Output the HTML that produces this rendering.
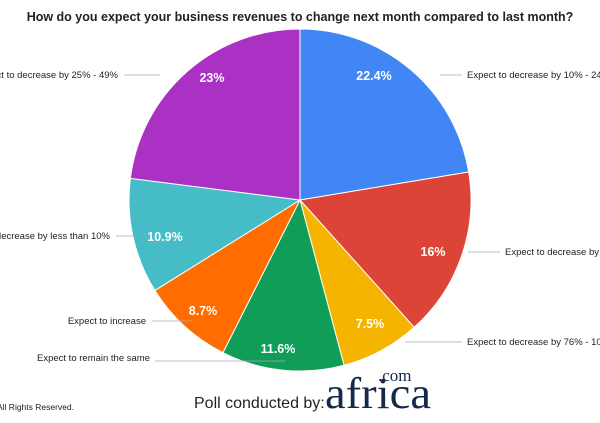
<!DOCTYPE html>
<html><head><style>
body{margin:0;background:#fff;width:600px;height:418px;overflow:hidden;font-family:"Liberation Sans",Arial,sans-serif}
</style></head><body>
<svg id="s" width="600" height="418" xmlns="http://www.w3.org/2000/svg" font-family="Liberation Sans, Arial, sans-serif">
<text x="300" y="21" text-anchor="middle" font-size="12.5" font-weight="bold" fill="#222">How do you expect your business revenues to change next month compared to last month?</text>
<g id="pie"></g>
<g stroke="#aaa" stroke-width="0.8" fill="none">
<line x1="440" y1="75" x2="462" y2="75"/>
<line x1="468" y1="252" x2="500" y2="252"/>
<line x1="405" y1="342" x2="462" y2="342"/>
<line x1="155" y1="361" x2="285" y2="361"/>
<line x1="152" y1="321" x2="192" y2="321"/>
<line x1="116" y1="236" x2="135" y2="236"/>
<line x1="124" y1="75" x2="160" y2="75"/>
</g>
<g font-size="9.5" fill="#222">
<text x="467" y="78">Expect to decrease by 10% - 24%</text>
<text x="505" y="255">Expect to decrease by 50% - 75%</text>
<text x="467" y="345">Expect to decrease by 76% - 100%</text>
<text x="150" y="361" text-anchor="end">Expect to remain the same</text>
<text x="146" y="324" text-anchor="end">Expect to increase</text>
<text x="110" y="239" text-anchor="end">Expect to decrease by less than 10%</text>
<text x="118" y="78" text-anchor="end">Expect to decrease by 25% - 49%</text>
</g>
<g font-size="12.5" font-weight="bold" fill="#fff" text-anchor="middle">
<text x="374" y="80">22.4%</text>
<text x="433" y="256">16%</text>
<text x="370" y="328">7.5%</text>
<text x="278" y="353">11.6%</text>
<text x="203" y="315">8.7%</text>
<text x="165" y="241">10.9%</text>
<text x="212" y="82">23%</text>
</g>
<text x="-3" y="410" font-size="8.5" fill="#222">All Rights Reserved.</text>
<text x="194" y="408" font-size="16" fill="#222">Poll conducted by:</text>
<text x="325" y="408" font-size="44" font-family="Liberation Serif, serif" fill="#15294a" textLength="106" lengthAdjust="spacingAndGlyphs">africa</text>
<text x="378" y="381" font-size="17" font-family="Liberation Serif, serif" fill="#15294a">.com</text>
</svg>
<script>
var d=[[22.4,"#4285f4"],[16,"#db4437"],[7.5,"#f4b400"],[11.6,"#0f9d58"],[8.7,"#ff6d00"],[10.9,"#46bdc6"],[23,"#ab30c4"]];
var cx=300,cy=200,r=171,a=0,t=100.1,h="";
d.forEach(function(s){var a2=a+s[0]/t*2*Math.PI;
var x1=cx+r*Math.sin(a),y1=cy-r*Math.cos(a),x2=cx+r*Math.sin(a2),y2=cy-r*Math.cos(a2);
h+='<path d="M'+cx+','+cy+'L'+x1+','+y1+'A'+r+','+r+' 0 '+(a2-a>Math.PI?1:0)+' 1 '+x2+','+y2+'Z" fill="'+s[1]+'" stroke="#fff" stroke-width="1"/>';a=a2;});
document.getElementById("pie").innerHTML=h;
</script>
</body></html>
